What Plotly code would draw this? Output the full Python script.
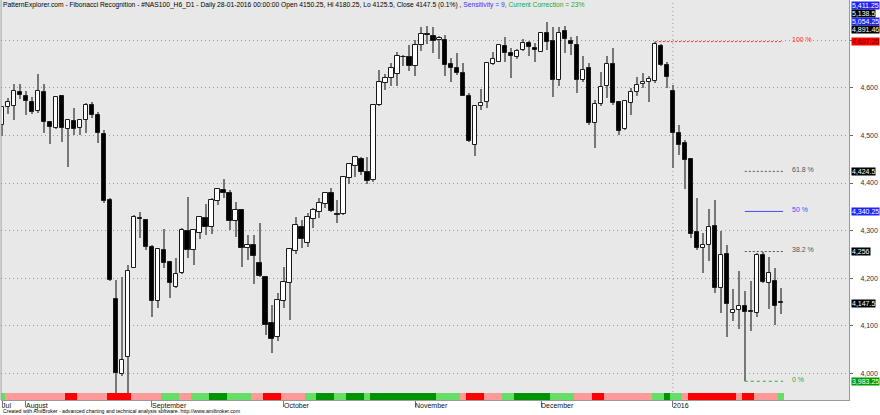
import numpy as np
import pandas as pd
import plotly.graph_objects as go

# ---------------- data ----------------
dates = [d.strftime('%Y-%m-%d') for d in pd.bdate_range('2015-07-28', '2016-01-28')
         if d.strftime('%Y-%m-%d') not in ('2015-12-25', '2016-01-01')]

open_ = [4521, 4559, 4561, 4591, 4583, 4570, 4552, 4592, 4528, 4515,
         4583, 4514, 4530, 4515, 4533, 4563, 4542, 4502, 4364, 4156,
         3998, 4034, 4221, 4326, 4323, 4266, 4151, 4260, 4233, 4181,
         4210, 4299, 4259, 4294, 4326, 4308, 4362, 4385, 4378, 4320,
         4343, 4263, 4269, 4232, 4203, 4105, 4076, 4153, 4189, 4258,
         4308, 4273, 4324, 4339, 4355, 4378, 4334, 4334, 4410, 4435,
         4451, 4423, 4406, 4563, 4610, 4620, 4629, 4665, 4664, 4645,
         4690, 4712, 4708, 4700, 4701, 4650, 4641, 4631, 4583, 4479,
         4561, 4570, 4650, 4655, 4688, 4674, 4664, 4680, 4695, 4683,
         4676, 4715, 4699, 4617, 4720, 4699, 4690, 4617, 4641, 4527,
         4566, 4603, 4650, 4570, 4513, 4569, 4591, 4608, 4612, 4615,
         4688, 4648, 4594, 4505, 4484, 4451, 4298, 4263, 4270, 4310,
         4179, 4251, 4126, 4133, 4142, 4130, 4126, 4249, 4189, 4195,
         4150.25]
high = [4562, 4578, 4608, 4608, 4594, 4580, 4629, 4608, 4531, 4582,
        4585, 4535, 4557, 4535, 4568, 4570, 4550, 4512, 4368, 4196,
        4203, 4228, 4332, 4340, 4325, 4270, 4263, 4303, 4235, 4242,
        4305, 4370, 4302, 4330, 4356, 4368, 4390, 4408, 4385, 4361,
        4345, 4291, 4291, 4315, 4205, 4144, 4168, 4224, 4262, 4329,
        4322, 4336, 4348, 4369, 4381, 4390, 4364, 4413, 4441, 4456,
        4455, 4455, 4566, 4638, 4629, 4652, 4676, 4669, 4690, 4701,
        4729, 4730, 4727, 4708, 4711, 4662, 4674, 4652, 4590, 4564,
        4597, 4654, 4676, 4692, 4706, 4683, 4681, 4702, 4699, 4694,
        4716, 4739, 4729, 4729, 4730, 4706, 4708, 4667, 4652, 4575,
        4634, 4666, 4683, 4572, 4574, 4599, 4622, 4631, 4624, 4697.25,
        4692, 4655, 4606, 4522, 4491, 4452, 4368, 4294, 4345, 4364,
        4300, 4269, 4177, 4216, 4172, 4193, 4252, 4256, 4244, 4221,
        4180.25]
low = [4499, 4545, 4533, 4577, 4542, 4545, 4547, 4505, 4481, 4513,
       4486, 4433, 4501, 4501, 4505, 4536, 4485, 4358, 4194, 3800,
       3995, 3930, 4221, 4284, 4259, 4119, 4137, 4221, 4158, 4180,
       4208, 4242, 4228, 4282, 4291, 4293, 4354, 4368, 4301, 4287,
       4223, 4238, 4188, 4202, 4081, 4042, 4067, 4137, 4112, 4251,
       4264, 4266, 4305, 4326, 4347, 4340, 4317, 4333, 4398, 4412,
       4416, 4397, 4403, 4562, 4596, 4603, 4603, 4645, 4636, 4626,
       4678, 4693, 4674, 4660, 4624, 4613, 4627, 4582, 4487, 4456,
       4554, 4557, 4648, 4654, 4655, 4620, 4660, 4678, 4666, 4654,
       4676, 4680, 4580, 4604, 4673, 4669, 4589, 4613, 4522, 4473,
       4561, 4578, 4564, 4501, 4511, 4543, 4582, 4599, 4571, 4610,
       4645, 4599, 4431, 4459, 4387, 4284, 4259, 4210, 4237, 4168,
       4126, 4077, 4109, 4093, 3983.25, 4088, 4119, 4190, 4135, 4102,
       4125.5]
close = [4559, 4570, 4593, 4584, 4573, 4550, 4594, 4528, 4517, 4580,
         4515, 4533, 4514, 4533, 4563, 4543, 4505, 4362, 4196, 4001,
         4027, 4216, 4329, 4324, 4266, 4151, 4261, 4231, 4190, 4208,
         4301, 4259, 4301, 4328, 4308, 4364, 4387, 4380, 4320, 4343,
         4263, 4269, 4247, 4205, 4101, 4073, 4154, 4191, 4261, 4312,
         4282, 4328, 4343, 4357, 4378, 4341, 4332, 4412, 4439, 4455,
         4423, 4405, 4565, 4612, 4620, 4641, 4667, 4664, 4646, 4690,
         4713, 4711, 4699, 4704, 4648, 4641, 4631, 4583, 4489, 4562,
         4569, 4652, 4660, 4690, 4674, 4666, 4678, 4695, 4685, 4680,
         4715, 4697, 4617, 4715, 4702, 4692, 4617, 4638, 4527, 4566,
         4601, 4650, 4568, 4510, 4573, 4592, 4606, 4613, 4618, 4692,
         4648, 4622, 4506, 4480, 4449, 4292, 4263, 4270, 4307, 4179,
         4249, 4146, 4133, 4142, 4129, 4129, 4249, 4191, 4210, 4142,
         4147.5]

# ribbon colour codes per bar: G light green, D dark green, P pink, R red
ribbon = ("G" + "PPPPPPPPPP" + "RR" + "PPPPP" + "RRRR" + "PPPPP" + "GGG" + "PP" + "GGG"
          + "DDD" + "GGGG" + "PP" + "RRR" + "PPPP" + "GG" + "DDD" + "GG" + "DDD" + "G"
          + "DDDDDDDDDDD" + "GGGG" + "P" + "RRR" + "PPP" + "GG" + "DDDDDD" + "GGGG" + "PPP"
          + "RR" + "PPPPPPPP" + "GG" + "D" + "GG" + "P" + "RRRRRRRR" + "P" + "RR" + "PPPP" + "G")
ribbon_colors = {"G": "#66dd66", "D": "#009400", "P": "#ff9a9a", "R": "#ff0000"}

month_labels = ["Jul", "August", "September", "October", "November", "December", "2016"]
y_ticks = [4000, 4100, 4200, 4300, 4400, 4500, 4600, 4700]

fib_pcts = ["100 %", "61.8 %", "50 %", "38.2 %", "0 %"]
fib_levels = [4697.25, 4424.5, 4340.25, 4256.0, 3983.25]
fib_box_text = ["4,697.25", "4,424.5", "4,340.25", "4,256", "3,983.25"]
fib_colors = ["#ff2a2a", "#555555", "#4a4aff", "#555555", "#33aa33"]
fib_box_bg = ["#ff0000", "#000000", "#2222ff", "#000000", "#009900"]
fib_dash = ["2px,2px", "2px,2px", "solid", "2px,2px", "3px,3px"]

top_box_text = ["5,411.25", "5,138.5", "5,054.25", "4,891.46"]
top_box_bg = ["#2222ff", "#000000", "#2222ff", "#000000"]

# ---------------- figure ----------------
n = len(close)
idx = np.arange(n)
o = np.array(open_, float); h = np.array(high, float)
l = np.array(low, float); c = np.array(close, float)

FONT = "Liberation Sans, Arial, sans-serif"
fig = go.Figure()

# wicks
fig.add_trace(go.Bar(x=idx, base=l, y=h - l, width=0.17,
                     marker=dict(color="#777777", line=dict(width=0)),
                     hoverinfo="skip", showlegend=False))
# bodies
up = c >= o
fig.add_trace(go.Bar(x=idx, base=np.minimum(o, c), y=np.maximum(np.abs(c - o), 1.6),
                     width=0.74,
                     marker=dict(color=["#ffffff" if u else "#000000" for u in up],
                                 line=dict(color="#1a1a1a", width=1)),
                     showlegend=False))

# fibonacci lines
hi_i = int(np.argmax(h == fib_levels[0]))
lo_i = int(np.argmax(l == fib_levels[-1]))
for k, lev in enumerate(fib_levels):
    start = hi_i if k == 0 else lo_i
    fig.add_trace(go.Scatter(x=[start, n - 1 + 0.4], y=[lev, lev], mode="lines",
                             line=dict(color=fib_colors[k], width=1, dash=fib_dash[k]),
                             hoverinfo="skip", showlegend=False))
    fig.add_annotation(x=n - 1 + 1.6, y=lev, xref="x", yref="y", text=fib_pcts[k],
                       showarrow=False, xanchor="left", yanchor="middle", yshift=2,
                       font=dict(family=FONT, size=7, color=fib_colors[k]))
    fig.add_annotation(x=1, y=lev, xref="paper", yref="y", text=fib_box_text[k],
                       showarrow=False, xanchor="left", yanchor="middle", xshift=2,
                       bgcolor=fib_box_bg[k], borderpad=0,
                       font=dict(family=FONT, size=7,
                                 color="#660000" if k == 0 else "#ffffff"))

# last close box
fig.add_annotation(x=1, y=c[-1], xref="paper", yref="y", text=f"{c[-1]:,.1f}",
                   showarrow=False, xanchor="left", yanchor="middle", xshift=2,
                   bgcolor="#000000", borderpad=0,
                   font=dict(family=FONT, size=7, color="#ffffff"))

# stacked out-of-range boxes at top
for k, t in enumerate(top_box_text):
    fig.add_annotation(x=1, y=1 - (5.8 + 7.9 * k) / 400, xref="paper", yref="paper", text=t,
                       showarrow=False, xanchor="left", yanchor="middle", xshift=2,
                       bgcolor=top_box_bg[k], borderpad=0,
                       font=dict(family=FONT, size=7, color="#ffffff"))

# ribbon
fig.add_trace(go.Bar(x=idx, base=0, y=[1] * n, width=1.0, yaxis="y2",
                     marker=dict(color=[ribbon_colors[r] for r in ribbon], line=dict(width=0)),
                     hoverinfo="skip", showlegend=False))

# month ticks
month_idx = [0] + [i for i in range(1, n) if dates[i][:7] != dates[i - 1][:7]]
for i, lab in zip(month_idx, month_labels):
    fig.add_annotation(x=i, y=0, xref="x", yref="paper", text=lab, showarrow=False,
                       xanchor="left", yanchor="top", xshift=-2, yshift=0,
                       font=dict(family=FONT, size=7, color="#111111"))
year_i = month_idx[-1]
fig.add_shape(type="line", x0=year_i, x1=year_i, y0=0, y1=1, xref="x", yref="paper",
              line=dict(color="#999999", width=1, dash="1px,3px"), layer="below")
fig.add_shape(type="line", x0=0, x1=0, y0=0, y1=1, xref="paper", yref="paper",
              line=dict(color="#999999", width=1))

# title
chg = (c[-1] - c[-2]) / c[-2] * 100
title = (f"PatternExplorer.com - Fibonacci Recognition - #NAS100_H6_D1 - Daily 28-01-2016 00:00:00 "
         f"Open {o[-1]:g}, Hi {h[-1]:g}, Lo {l[-1]:g}, Close {c[-1]:g} ({chg:.1f}%) , "
         f"<span style='color:#3333ff'>Sensitivity = 9, </span>"
         f"<span style='color:#22aa22'>Current Correction = 23%</span>")
fig.add_annotation(x=0, y=1, xref="paper", yref="paper", text=title, showarrow=False,
                   xanchor="left", yanchor="top", xshift=0, yshift=1,
                   font=dict(family=FONT, size=6.7, color="#000000"))
fig.add_annotation(x=0, y=-0.0285, xref="paper", yref="paper",
                   text="Created with AmiBroker - advanced charting and technical analysis software. http://www.amibroker.com",
                   showarrow=False, xanchor="left", yanchor="middle", xshift=0,
                   font=dict(family=FONT, size=5.2, color="#000000"))

fig.update_layout(
    width=880, height=415,
    margin=dict(l=1, r=31, t=0, b=15),
    paper_bgcolor="#ffffff", plot_bgcolor="#e8e8e8",
    barmode="overlay", bargap=0, showlegend=False,
    font=dict(family=FONT, size=7, color="#333333"),
    xaxis=dict(range=[-0.17, 141.4], tickmode="array", tickvals=month_idx,
               ticktext=[""] * len(month_idx), ticks="outside", ticklen=6,
               tickcolor="#777777", showgrid=False, zeroline=False,
               showline=True, linecolor="#999999", linewidth=1),
    yaxis=dict(range=[3943.9, 4784.7], side="right", tickmode="array", tickvals=y_ticks,
               ticktext=[f"{v:,}" if v < 4700 else "" for v in y_ticks],
               ticks="outside", ticklen=3, tickcolor="#666666", ticklabelstandoff=6,
               showgrid=True, gridcolor="#999999", griddash="1px,3px", gridwidth=1,
               zeroline=False, showline=True, linecolor="#999999", linewidth=1,
               tickfont=dict(family=FONT, size=7, color="#333333")),
    yaxis2=dict(overlaying="y", range=[0, 57.1], visible=False),
)

fig.write_html("out.html", config={"displayModeBar": False},
               post_script="document.body.style.margin='0';document.body.style.overflow='hidden';")
